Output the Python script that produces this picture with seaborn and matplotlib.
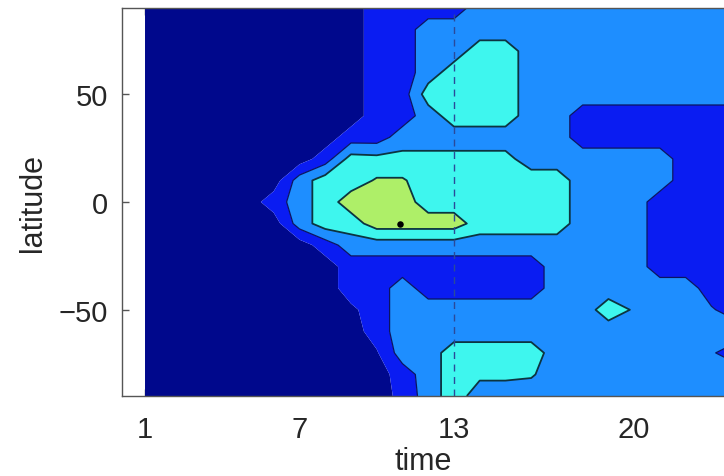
import numpy as np
import matplotlib
matplotlib.use("Agg")
import matplotlib.pyplot as plt
import seaborn as sns

# time steps (columns) and latitudes (rows, north to south)
time = [1, 2, 3, 4, 5, 6, 7, 8, 9, 10, 11, 12, 13, 14, 15, 16, 17, 18, 19, 20, 21, 22, 23, 24]
latitude = [90, 80, 70, 60, 50, 40, 30, 20, 10, 0, -10, -20, -30, -40, -50, -60, -70, -80, -90]

# field values (0 = lowest band ... 4 = highest band)
lat_p90 = [0, 0, 0, 0, 0, 0, 0, 0, 0, 1, 1, 1, 1, 2, 2, 2, 2, 2, 2, 2, 2, 2, 2, 2]
lat_p80 = [0, 0, 0, 0, 0, 0, 0, 0, 0, 1, 1, 2, 2, 2, 2, 2, 2, 2, 2, 2, 2, 2, 2, 2]
lat_p70 = [0, 0, 0, 0, 0, 0, 0, 0, 0, 1, 1, 2, 2, 3, 3, 2, 2, 2, 2, 2, 2, 2, 2, 2]
lat_p60 = [0, 0, 0, 0, 0, 0, 0, 0, 0, 1, 1, 2, 3, 3, 3, 2, 2, 2, 2, 2, 2, 2, 2, 2]
lat_p50 = [0, 0, 0, 0, 0, 0, 0, 0, 0, 1, 1, 3, 3, 3, 3, 2, 2, 2, 2, 2, 2, 2, 2, 2]
lat_p40 = [0, 0, 0, 0, 0, 0, 0, 0, 0, 1, 1, 2, 3, 3, 3, 2, 2, 1, 1, 1, 1, 1, 1, 1]
lat_p30 = [0, 0, 0, 0, 0, 0, 0, 0, 1, 1, 2, 2, 2, 2, 2, 2, 2, 1, 1, 1, 1, 1, 1, 1]
lat_p20 = [0, 0, 0, 0, 0, 0, 0, 1, 2.9, 2.8, 2.8, 2.8, 2.8, 2.8, 2.8, 2, 2, 2, 2, 2, 2, 1, 1, 1]
lat_p10 = [0, 0, 0, 0, 0, 0, 2, 3, 3, 3.6, 3.6, 3, 3, 3, 3, 3, 3, 2, 2, 2, 2, 1, 1, 1]
lat_0 = [0, 0, 0, 0, 0, 1, 2, 3, 4, 4, 4, 3, 3, 3, 3, 3, 3, 2, 2, 2, 1, 1, 1, 1]
lat_m10 = [0, 0, 0, 0, 0, 0, 2, 3, 3, 4, 4, 4, 4, 3, 3, 3, 3, 2, 2, 2, 1, 1, 1, 1]
lat_m20 = [0, 0, 0, 0, 0, 0, 0, 1, 2, 2, 2, 2, 2, 2, 2, 2, 2, 2, 2, 2, 1, 1, 1, 1]
lat_m30 = [0, 0, 0, 0, 0, 0, 0, 0, 1, 1, 1, 1, 1, 1, 1, 1, 2, 2, 2, 2, 1, 1, 1, 1]
lat_m40 = [0, 0, 0, 0, 0, 0, 0, 0, 1, 1, 2, 1, 1, 1, 1, 1, 2, 2, 2, 2, 2, 2, 1, 1]
lat_m50 = [0, 0, 0, 0, 0, 0, 0, 0, 0.3, 1, 2, 2, 2, 2, 2, 2, 2, 2, 3, 2.4, 2, 2, 1.6, 1]
lat_m60 = [0, 0, 0, 0, 0, 0, 0, 0, 0, 1, 2, 2, 2, 2, 2, 2, 2, 2, 2, 2, 2, 2, 2, 2]
lat_m70 = [0, 0, 0, 0, 0, 0, 0, 0, 0, 0.4, 2, 2, 3, 3, 3, 3, 2, 2, 2, 2, 2, 2, 1.6, 1]
lat_m80 = [0, 0, 0, 0, 0, 0, 0, 0, 0, 0, 1, 2, 3, 2.7, 2.7, 2.6, 2, 2, 2, 2, 2, 2, 2, 2]
lat_m90 = [0, 0, 0, 0, 0, 0, 0, 0, 0, 0, 0.8, 2, 3, 2, 2, 2, 2, 2, 2, 2, 2, 2, 2, 2]

levels = [-0.5, 0.5, 1.5, 2.5, 3.5, 4.5]
band_colors = ["#00088c", "#0a1cf2", "#1e8eff", "#3ef6ee", "#aeef68"]

# marked point and reference time
marker_time = [10.9]
marker_lat = [-10]
ref_time = 13

x_ticks = [1, 7, 13, 20]
y_ticks = [-50, 0, 50]

field = np.array([
    lat_p90, lat_p80, lat_p70, lat_p60, lat_p50, lat_p40, lat_p30, lat_p20, lat_p10,
    lat_0, lat_m10, lat_m20, lat_m30, lat_m40, lat_m50, lat_m60, lat_m70, lat_m80, lat_m90,
])

sns.set_theme(style="white")
plt.rcParams["font.family"] = ["Liberation Sans", "DejaVu Sans"]

W, H = 724, 477
fig = plt.figure(figsize=(W / 100, H / 100), dpi=100)
ax = fig.add_axes([122 / W, 1 - 397 / H, (W - 122) / W, (397 - 9) / H])

ax.contourf(time, latitude, field, levels=levels, colors=band_colors, antialiased=True)
ax.contour(time, latitude, field, levels=[1.5], colors="#0a1460", linewidths=0.9)
ax.contour(time, latitude, field, levels=[2.5, 3.5], colors="#0c3440", linewidths=1.3)
ax.axvline(ref_time, color="#2a4a9a", ls=(0, (5, 4)), lw=1)
sns.scatterplot(x=marker_time, y=marker_lat, color="black", s=22, ax=ax,
                legend=False, zorder=5, linewidth=0)

ax.set_xlim(0.106, 23.49)
ax.set_ylim(-90, 90)
ax.set_xticks(x_ticks)
ax.set_yticks(y_ticks)

for side in ["left", "bottom", "top"]:
    ax.spines[side].set_color("#555555")
    ax.spines[side].set_linewidth(1.0)
ax.spines["right"].set_visible(False)

ax.tick_params(axis="both", direction="in", length=5, width=1, color="#555555",
               labelsize=21, labelcolor="#262626")
ax.tick_params(axis="x", top=True, bottom=True, pad=14)
ax.tick_params(axis="y", left=True, right=False, pad=10)

ax.set_xlabel("time", fontsize=22, color="#262626", labelpad=2)
ax.set_ylabel("latitude", fontsize=22, color="#262626", labelpad=8)

fig.savefig("out.png", dpi=100)
